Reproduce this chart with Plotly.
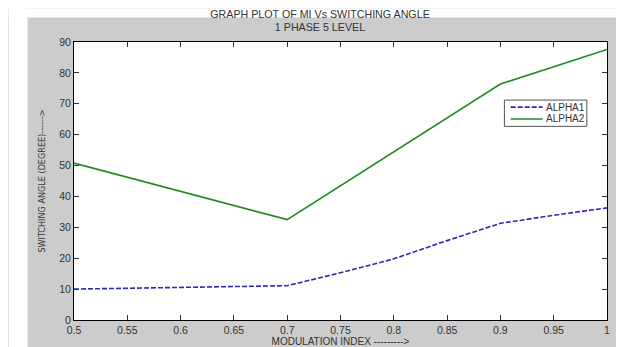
import plotly.graph_objects as go

# Data
mi_alpha1 = [0.5, 0.55, 0.6, 0.65, 0.7, 0.75, 0.8, 0.85, 0.9, 0.95, 1.0]
alpha1 = [10.0, 10.3, 10.6, 10.8, 11.1, 15.3, 19.8, 25.7, 31.3, 33.9, 36.3]

mi_alpha2 = [0.5, 0.7, 0.9, 1.0]
alpha2 = [50.8, 32.5, 76.4, 87.6]

series_names = ["ALPHA1", "ALPHA2"]
x_ticks = [0.5, 0.55, 0.6, 0.65, 0.7, 0.75, 0.8, 0.85, 0.9, 0.95, 1.0]
x_tick_labels = ["0.5", "0.55", "0.6", "0.65", "0.7", "0.75", "0.8", "0.85", "0.9", "0.95", "1"]
y_ticks = [0, 10, 20, 30, 40, 50, 60, 70, 80, 90]

W, H = 624, 347
L, R, T, B = 65.5, 24.5, 34.3, 30.3
pw, ph = W - L - R, H - T - B

def px_x(p):
    return (p - L) / pw

def px_y(p):
    return (H - B - p) / ph

font = "Liberation Sans, Arial, sans-serif"
narrow = "Liberation Sans Narrow, DejaVu Sans Condensed, Liberation Sans, sans-serif"
colors = ["#2a2ab8", "#1f8a1f"]
dashes = ["5px,2px", "solid"]

fig = go.Figure()
fig.add_trace(go.Scatter(x=mi_alpha1, y=alpha1, mode="lines", name=series_names[0],
                         showlegend=False,
                         line=dict(color=colors[0], width=1.6, dash=dashes[0])))
fig.add_trace(go.Scatter(x=mi_alpha2, y=alpha2, mode="lines", name=series_names[1],
                         showlegend=False,
                         line=dict(color=colors[1], width=1.6, dash=dashes[1])))

axis_common = dict(showline=True, linecolor="black", linewidth=1, mirror="allticks",
                   ticks="inside", ticklen=5, tickcolor="#333", showgrid=False, zeroline=False,
                   tickfont=dict(family=font, size=10.5, color="#333"))

shapes = [
    dict(type="rect", xref="paper", yref="paper", x0=px_x(0), x1=px_x(19), y0=px_y(H), y1=px_y(0),
         fillcolor="white", line=dict(width=0), layer="above"),
    dict(type="rect", xref="paper", yref="paper", x0=px_x(0), x1=px_x(W), y0=px_y(9.5), y1=px_y(0),
         fillcolor="white", line=dict(width=0), layer="above"),
    # legend box
    dict(type="rect", xref="paper", yref="paper", x0=px_x(496.7), x1=px_x(579.3),
         y0=px_y(120), y1=px_y(93.3), fillcolor="white", line=dict(color="#555", width=1),
         layer="above"),
]
annotations = []
row_y = [100.5, 112.5]
for i, name in enumerate(series_names):
    shapes.append(dict(type="line", xref="paper", yref="paper", x0=px_x(503), x1=px_x(535),
                       y0=px_y(row_y[i]), y1=px_y(row_y[i]),
                       line=dict(color=colors[i], width=1.6, dash=dashes[i]), layer="above"))
    annotations.append(dict(text=name, xref="paper", yref="paper", x=px_x(536), y=px_y(row_y[i]),
                            xanchor="left", yanchor="middle", showarrow=False,
                            font=dict(family=font, size=10, color="#333")))

fig.update_layout(
    width=W, height=H,
    margin=dict(l=L, r=R, t=T, b=B, pad=0),
    paper_bgcolor="#cccccc", plot_bgcolor="white",
    title=dict(text="GRAPH PLOT OF MI Vs SWITCHING ANGLE<br>1 PHASE 5 LEVEL",
               x=px_x((L + W - R) / 2), xanchor="center", y=1 - 9.5 / H, yanchor="top",
               font=dict(family=font, size=10.7, color="#333")),
    xaxis=dict(range=[0.5, 1.0], tickvals=x_ticks, ticktext=x_tick_labels,
               title=dict(text="MODULATION INDEX --------->", standoff=0,
                          font=dict(family=font, size=10, color="#333")),
               **axis_common),
    yaxis=dict(range=[0, 90], tickvals=y_ticks,
               title=dict(text="SWITCHING ANGLE (DEGREE)------>", standoff=12,
                          font=dict(family=narrow, size=9, color="#333")),
               **axis_common),
    showlegend=False,
    shapes=shapes,
    annotations=annotations,
)

fig.write_html("out.html")
